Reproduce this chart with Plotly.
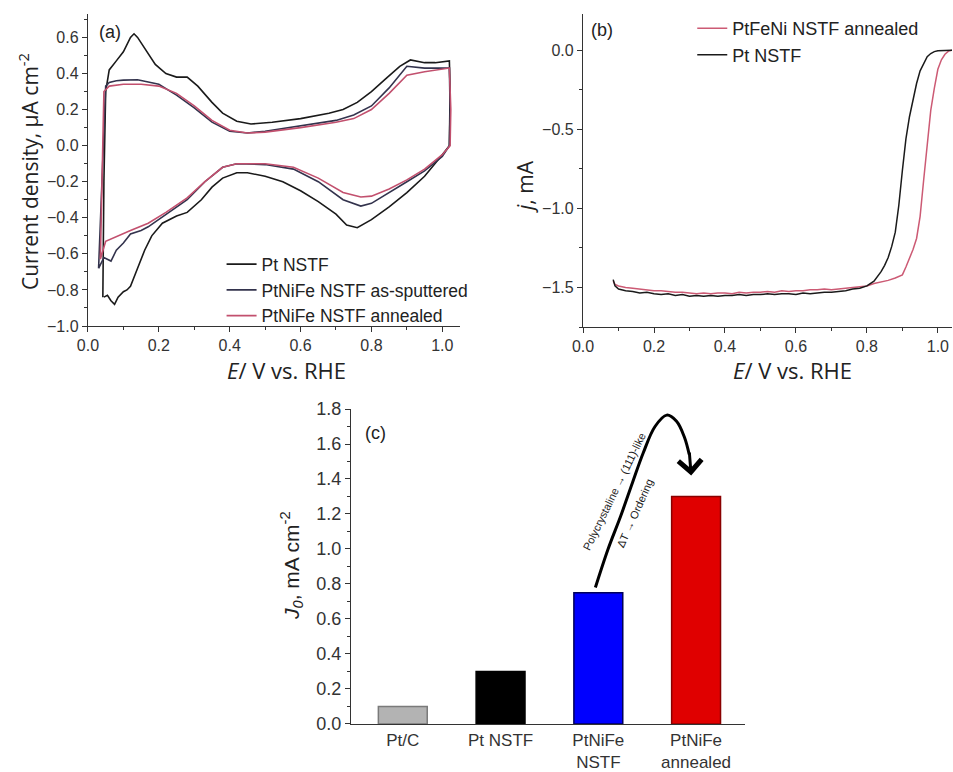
import plotly.graph_objects as go

# ---------------- Panel (a): cyclic voltammograms ----------------
E_pt = [0.042, 0.045, 0.05, 0.06, 0.08, 0.10, 0.12, 0.13, 0.14, 0.16, 0.19, 0.22, 0.25, 0.28, 0.31, 0.35,
        0.38, 0.42, 0.46, 0.52, 0.60, 0.68, 0.72, 0.76, 0.80, 0.84, 0.88, 0.91, 0.95, 0.98, 1.02,
        1.022, 1.02, 1.00, 0.95, 0.90, 0.85, 0.80, 0.76, 0.73, 0.70, 0.65, 0.60, 0.55, 0.50, 0.45,
        0.42, 0.38, 0.35, 0.32, 0.28, 0.25, 0.21, 0.18, 0.16, 0.14, 0.12, 0.11, 0.10, 0.085, 0.075,
        0.065, 0.055, 0.045]
j_pt = [-0.84, -0.20, 0.30, 0.42, 0.47, 0.52, 0.60, 0.62, 0.60, 0.54, 0.45, 0.40, 0.38, 0.38, 0.33, 0.24,
        0.18, 0.135, 0.12, 0.13, 0.15, 0.18, 0.20, 0.24, 0.30, 0.37, 0.44, 0.475, 0.46, 0.46, 0.47,
        0.30, 0.00, -0.05, -0.17, -0.26, -0.34, -0.41, -0.455, -0.44, -0.38, -0.31, -0.25, -0.20, -0.17, -0.15,
        -0.15, -0.18, -0.23, -0.30, -0.37, -0.39, -0.43, -0.50, -0.58, -0.68, -0.78, -0.80, -0.81, -0.84, -0.88,
        -0.86, -0.83, -0.84]

E_as = [0.030, 0.040, 0.050, 0.060, 0.08, 0.10, 0.14, 0.20, 0.25, 0.30, 0.35, 0.40, 0.45, 0.50, 0.60,
        0.70, 0.75, 0.80, 0.85, 0.90, 0.95, 1.02,
        1.022, 1.02, 1.00, 0.95, 0.90, 0.85, 0.80, 0.77, 0.72, 0.65, 0.58, 0.50, 0.42, 0.38, 0.33,
        0.28, 0.22, 0.17, 0.15, 0.12, 0.10, 0.08, 0.065, 0.045, 0.030]
j_as = [-0.68, -0.20, 0.33, 0.35, 0.36, 0.363, 0.365, 0.34, 0.28, 0.21, 0.13, 0.08, 0.07, 0.08, 0.11,
        0.14, 0.17, 0.22, 0.32, 0.44, 0.43, 0.43,
        0.20, 0.00, -0.06, -0.14, -0.20, -0.26, -0.32, -0.335, -0.30, -0.20, -0.13, -0.105, -0.10, -0.12, -0.20,
        -0.30, -0.38, -0.45, -0.47, -0.49, -0.54, -0.58, -0.64, -0.62, -0.68]

E_an = [0.035, 0.040, 0.045, 0.060, 0.10, 0.15, 0.20, 0.25, 0.30, 0.35, 0.40, 0.45, 0.50, 0.60, 0.70,
        0.75, 0.80, 0.85, 0.90, 0.95, 1.02,
        1.024, 1.022, 1.00, 0.95, 0.90, 0.85, 0.80, 0.77, 0.72, 0.65, 0.58, 0.50, 0.42, 0.38, 0.33,
        0.28, 0.22, 0.17, 0.12, 0.07, 0.05, 0.035]
j_an = [-0.63, -0.10, 0.30, 0.33, 0.34, 0.34, 0.33, 0.29, 0.22, 0.14, 0.085, 0.07, 0.075, 0.10, 0.13,
        0.15, 0.20, 0.29, 0.39, 0.41, 0.43,
        0.20, 0.00, -0.05, -0.13, -0.19, -0.24, -0.28, -0.285, -0.26, -0.18, -0.12, -0.10, -0.10, -0.12, -0.20,
        -0.29, -0.37, -0.43, -0.47, -0.51, -0.53, -0.63]

# ---------------- Panel (b): ORR polarization ----------------
E_lsv_pt = [0.085, 0.09, 0.10, 0.12, 0.14, 0.16, 0.18, 0.20, 0.22, 0.24, 0.26, 0.28, 0.30, 0.32, 0.34,
            0.36, 0.38, 0.40, 0.42, 0.44, 0.46, 0.48, 0.50, 0.52, 0.54, 0.56, 0.58, 0.60, 0.62, 0.64,
            0.66, 0.68, 0.70, 0.72, 0.74, 0.76, 0.78, 0.80, 0.82, 0.84, 0.85, 0.86, 0.87, 0.88, 0.89,
            0.90, 0.91, 0.92, 0.93, 0.94, 0.95, 0.96, 0.97, 0.98, 0.99, 1.00, 1.02, 1.04]
j_lsv_pt = [-1.45, -1.49, -1.51, -1.52, -1.525, -1.535, -1.53, -1.54, -1.545, -1.54, -1.55, -1.545, -1.555, -1.55, -1.555,
            -1.55, -1.555, -1.55, -1.55, -1.545, -1.55, -1.545, -1.545, -1.54, -1.545, -1.54, -1.54, -1.545, -1.535, -1.54,
            -1.535, -1.53, -1.53, -1.525, -1.52, -1.51, -1.505, -1.49, -1.46, -1.40, -1.36, -1.31, -1.24, -1.15, -0.98,
            -0.76, -0.56, -0.42, -0.31, -0.21, -0.13, -0.08, -0.04, -0.02, -0.008, -0.002, 0.0, 0.0]

E_lsv_an = [0.085, 0.09, 0.10, 0.12, 0.14, 0.16, 0.18, 0.20, 0.22, 0.24, 0.26, 0.28, 0.30, 0.32, 0.34,
            0.36, 0.38, 0.40, 0.42, 0.44, 0.46, 0.48, 0.50, 0.52, 0.54, 0.56, 0.58, 0.60, 0.62, 0.64,
            0.66, 0.68, 0.70, 0.72, 0.74, 0.76, 0.78, 0.80, 0.82, 0.84, 0.86, 0.88, 0.90, 0.91, 0.92,
            0.93, 0.94, 0.95, 0.96, 0.97, 0.98, 0.99, 1.00, 1.01, 1.02, 1.03, 1.04]
j_lsv_an = [-1.46, -1.48, -1.49, -1.50, -1.505, -1.51, -1.515, -1.52, -1.52, -1.525, -1.53, -1.53, -1.535, -1.54, -1.535,
            -1.54, -1.535, -1.535, -1.54, -1.53, -1.535, -1.53, -1.53, -1.525, -1.53, -1.52, -1.525, -1.52, -1.52, -1.515,
            -1.515, -1.51, -1.515, -1.51, -1.505, -1.50, -1.495, -1.49, -1.475, -1.465, -1.455, -1.44, -1.42, -1.37, -1.32,
            -1.26, -1.19, -1.05, -0.82, -0.58, -0.38, -0.24, -0.12, -0.06, -0.025, -0.005, 0.0]

# ---------------- Panel (c): exchange current densities ----------------
categories = ["Pt/C", "Pt NSTF", "PtNiFe<br>NSTF", "PtNiFe<br>annealed"]
j0_values = [0.10, 0.30, 0.75, 1.30]
bar_colors = ["#b3b3b3", "#000000", "#0000ff", "#e00000"]
bar_edges = ["#7a7a7a", "#000000", "#00005a", "#8a0000"]
cat_pos = [0, 1, 2, 3]

arrow_x = [1.97, 2.10, 2.23, 2.35, 2.46, 2.58, 2.70, 2.80, 2.88, 2.93]
arrow_y = [0.78, 1.00, 1.19, 1.38, 1.55, 1.70, 1.765, 1.73, 1.64, 1.54]

AX = "#333333"
TICKF = dict(family="Liberation Sans, Arial", size=16, color="#333333")

fig = go.Figure()

fig.add_trace(go.Scatter(x=E_pt, y=j_pt, mode="lines", name="Pt NSTF",
                         line=dict(color="#1a1a1a", width=1.6), xaxis="x", yaxis="y", legend="legend"))
fig.add_trace(go.Scatter(x=E_as, y=j_as, mode="lines", name="PtNiFe NSTF as-sputtered",
                         line=dict(color="#33334d", width=1.6), xaxis="x", yaxis="y", legend="legend"))
fig.add_trace(go.Scatter(x=E_an, y=j_an, mode="lines", name="PtNiFe NSTF annealed",
                         line=dict(color="#c2506e", width=1.6), xaxis="x", yaxis="y", legend="legend"))

fig.add_trace(go.Scatter(x=E_lsv_an, y=j_lsv_an, mode="lines", name="PtFeNi NSTF annealed",
                         line=dict(color="#cc5a74", width=1.5), xaxis="x2", yaxis="y2", legend="legend2"))
fig.add_trace(go.Scatter(x=E_lsv_pt, y=j_lsv_pt, mode="lines", name="Pt NSTF",
                         line=dict(color="#1a1a1a", width=1.5), xaxis="x2", yaxis="y2", legend="legend2"))

fig.add_trace(go.Bar(x=cat_pos, y=j0_values, width=0.5, marker=dict(color=bar_colors,
                     line=dict(color=bar_edges, width=1.5)), showlegend=False, xaxis="x3", yaxis="y3"))

fig.add_trace(go.Scatter(x=arrow_x, y=arrow_y, mode="lines", line=dict(color="black", width=3, shape="spline"),
                         showlegend=False, xaxis="x3", yaxis="y3", hoverinfo="skip"))

common = dict(showline=True, linecolor=AX, linewidth=1.3, ticks="outside", ticklen=5, tickwidth=1.2,
              tickcolor=AX, showgrid=False, zeroline=False, tickfont=TICKF)
CF = dict(family="Liberation Sans, Arial", size=18, color="#333333")
XF = dict(family="Liberation Sans, Arial", size=17, color="#333333")

fig.update_layout(
    width=953, height=772, margin=dict(l=0, r=0, t=0, b=0, autoexpand=False),
    paper_bgcolor="white", plot_bgcolor="white",
    xaxis=dict(domain=[0.0923, 0.4827], range=[0, 1.05], dtick=0.2, tickformat=".1f",
               minor=dict(ticks="outside", ticklen=3, dtick=0.1, tickcolor=AX), anchor="y", **common),
    yaxis=dict(domain=[0.5777, 0.9819], range=[-1.0, 0.73], dtick=0.2, tickformat=".1f",
               minor=dict(ticks="outside", ticklen=3, dtick=0.1, tickcolor=AX), anchor="x", **common),
    xaxis2=dict(domain=[0.6118, 0.999], range=[0, 1.04], dtick=0.2, tickformat=".1f",
                minor=dict(ticks="outside", ticklen=3, dtick=0.1, tickcolor=AX), anchor="y2", **common),
    yaxis2=dict(domain=[0.5764, 0.9819], range=[-1.75, 0.23], dtick=0.5, tickformat=".1f",
                minor=dict(ticks="outside", ticklen=3, dtick=0.25, tickcolor=AX), anchor="x2", **common),
    xaxis3=dict(domain=[0.3683, 0.7817], range=[-0.53, 3.5], tickvals=cat_pos, ticktext=categories,
                anchor="y3", showline=True, linecolor=AX, linewidth=1.3, ticks="", showgrid=False,
                zeroline=False, tickfont=XF),
    yaxis3=dict(domain=[0.0622, 0.4702], range=[0, 1.8], dtick=0.2, tickformat=".1f",
                minor=dict(ticks="outside", ticklen=3, dtick=0.1, tickcolor=AX), anchor="x3",
                **{**common, "tickfont": CF}),
    legend=dict(x=0.2325, y=0.681, xanchor="left", yanchor="top", bgcolor="rgba(0,0,0,0)",
                font=dict(family="Liberation Sans, Arial", size=17.5, color="#222"), tracegroupgap=0,
                itemwidth=30),
    legend2=dict(x=0.7264, y=0.987, xanchor="left", yanchor="top", bgcolor="rgba(0,0,0,0)",
                 font=dict(family="Liberation Sans, Arial", size=18, color="#222"), itemwidth=30),
)

ann = []
def txt(x, y, s, size=17, fam="Liberation Sans, Arial", angle=0):
    ann.append(dict(x=x / 953, y=1 - y / 772, xref="paper", yref="paper", text=s, showarrow=False,
                    font=dict(family=fam, size=size, color="#222"), textangle=angle,
                    xanchor="center", yanchor="middle"))

TF = "Open Sans, DejaVu Sans"
AF = "Liberation Sans, Arial"
txt(110, 32, "(a)", 18)
txt(602, 30, "(b)", 18)
txt(375, 433, "(c)", 18)
txt(28, 172, "Current density, μA cm<sup>-2</sup>", 21, TF, -90)
txt(286, 370, "<i>E</i>/ V vs. RHE", 22, TF)
txt(525, 187, "<i>j</i>, mA", 21, TF, -90)
txt(792, 370, "<i>E</i>/ V vs. RHE", 22, TF)
txt(291, 566, "<i>J<sub>0</sub></i>, mA cm<sup>-2</sup>", 21, AF, -90)
txt(614, 492, "Polycrystaline → (111)-like", 11, AF, -64)
txt(635, 513, "ΔT → Ordering", 11, AF, -66)

ann.append(dict(x=2.95, y=1.42, xref="x3", yref="y3", ax=2.93, ay=1.56, axref="x3", ayref="y3",
                text="", showarrow=True, arrowhead=4, arrowsize=1.5, arrowwidth=3, arrowcolor="black"))

fig.update_layout(annotations=ann)
fig.write_html("out.html", config={"displayModeBar": False},
               post_script="document.body.style.margin='0';")
